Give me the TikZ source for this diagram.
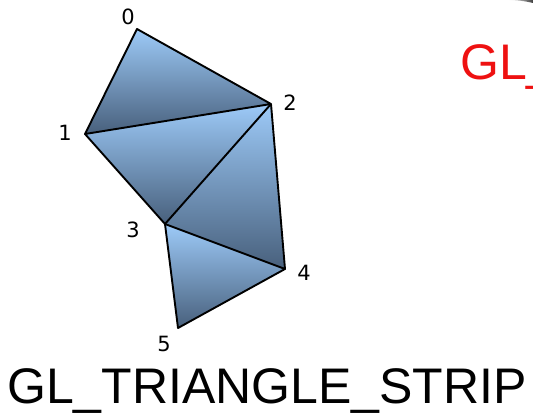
\documentclass[tikz,border=0pt]{standalone}
\usepackage{fontspec}
\setmainfont{Liberation Sans}
\newfontfamily\labfont{DejaVu Sans}
\definecolor{lightblue}{HTML}{9DCAF8}
\definecolor{darkslate}{HTML}{48607C}
\definecolor{glred}{HTML}{EE1111}
\begin{document}
\begin{tikzpicture}[x=1pt,y=-1pt,
  tri/.style={top color=lightblue,bottom color=darkslate},
  edge/.style={draw=black,line width=1.9pt,line join=round},
  vlab/.style={font=\labfont\fontsize{21}{21}\selectfont,inner sep=0pt}]
\useasboundingbox (0,0) rectangle (533,414);
\clip (0,0) rectangle (533,414);
\coordinate (v0) at (137,29);
\coordinate (v1) at (85,134);
\coordinate (v2) at (271,104);
\coordinate (v3) at (165,224);
\coordinate (v4) at (285,269);
\coordinate (v5) at (178,328);
\shade[tri] (v0) -- (v1) -- (v2) -- cycle;
\shade[tri] (v1) -- (v2) -- (v3) -- cycle;
\shade[tri] (v2) -- (v3) -- (v4) -- cycle;
\shade[tri] (v3) -- (v4) -- (v5) -- cycle;
\draw[edge] (v0) -- (v1) -- (v2) -- cycle;
\draw[edge] (v1) -- (v3) -- (v2);
\draw[edge] (v2) -- (v4) -- (v3);
\draw[edge] (v3) -- (v5) -- (v4);
\node[vlab] (l0) at (128,17) {0};
\node[vlab] (l1) at (65,133) {1};
\node[vlab] (l2) at (290,103) {2};
\node[vlab] (l3) at (133,230) {3};
\node[vlab] (l4) at (304,273) {4};
\node[vlab] (l5) at (164,344) {5};
\node[anchor=base west,inner sep=0pt,text=glred,font=\fontsize{50}{50}\selectfont] (red) at (460,80) {GL\_};
\node[anchor=base,inner sep=0pt,font=\fontsize{50}{50}\selectfont] (title) at (267,403) {GL\_TRIANGLE\_STRIP};
\shade[left color=white,right color=black!75] (508,0) .. controls (516,0) and (525,1) .. (533,3) -- (533,0) -- cycle;
\end{tikzpicture}
\end{document}
